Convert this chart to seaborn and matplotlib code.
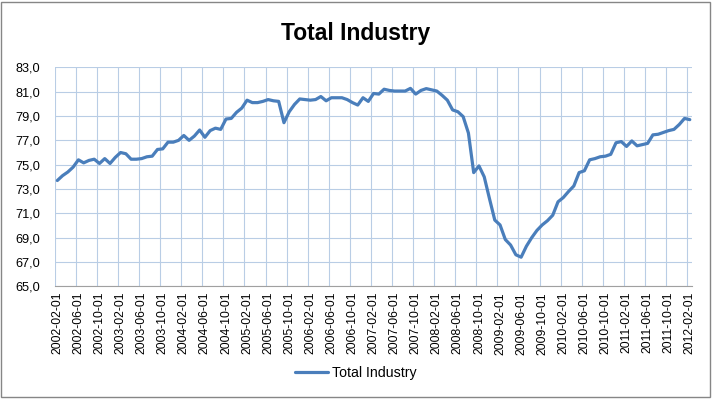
import numpy as np
import pandas as pd
import matplotlib
matplotlib.use('Agg')
import matplotlib.pyplot as plt
from matplotlib.ticker import FuncFormatter, FixedLocator
from matplotlib.patches import Rectangle
import seaborn as sns

# monthly values, 2002-02 .. 2012-02
values = [73.7, 74.1, 74.4, 74.8, 75.4, 75.15, 75.35, 75.45, 75.1, 75.5,
          75.1, 75.6, 76.0, 75.9, 75.45, 75.45, 75.5, 75.65, 75.7, 76.25,
          76.3, 76.85, 76.85, 77.0, 77.4, 77.0, 77.35, 77.85, 77.25, 77.8,
          78.0, 77.9, 78.75, 78.8, 79.3, 79.65, 80.3, 80.1, 80.1, 80.2,
          80.35, 80.25, 80.2, 78.45, 79.35, 79.95, 80.4, 80.35, 80.3, 80.35,
          80.6, 80.25, 80.5, 80.5, 80.5, 80.35, 80.1, 79.9, 80.5, 80.2,
          80.85, 80.8, 81.2, 81.1, 81.05, 81.05, 81.05, 81.27, 80.8, 81.1,
          81.25, 81.15, 81.05, 80.7, 80.3, 79.5, 79.35, 78.95, 77.6, 74.35,
          74.9, 74.0, 72.2, 70.45, 70.05, 68.85, 68.4, 67.6, 67.4, 68.3,
          69.0, 69.6, 70.05, 70.4, 70.85, 71.95, 72.3, 72.8, 73.25, 74.35,
          74.5, 75.4, 75.5, 75.65, 75.7, 75.85, 76.8, 76.9, 76.5, 76.95,
          76.55, 76.65, 76.75, 77.45, 77.5, 77.65, 77.8, 77.9, 78.3, 78.8,
          78.7]
dates = pd.date_range('2002-02-01', periods=len(values), freq='MS')
series_name = 'Total Industry'

df = pd.DataFrame({'date': dates.strftime('%Y-%m-%d'), 'value': values})
df['idx'] = np.arange(len(df))

sns.set_style('white')
plt.rcParams['font.family'] = ['Liberation Sans', 'DejaVu Sans']
plt.rcParams['text.color'] = 'black'

line_col = '#4A7EBB'
grid_col = '#B9CDE5'

fig = plt.figure(figsize=(7.12, 3.99), dpi=100)
ax = fig.add_axes([0.0768, 0.2822, 0.8957, 0.5491])

sns.lineplot(data=df, x='idx', y='value', ax=ax, color=line_col,
             linewidth=2.3, label=series_name)

ax.set_xlim(-0.5, len(df) - 0.5)
ax.set_ylim(65, 83)
ax.set_yticks(np.arange(65, 84, 2))
ax.yaxis.set_major_formatter(FuncFormatter(lambda v, p: f'{v:.1f}'.replace('.', ',')))

tick_pos = df['idx'][::4]
ax.set_xticks(tick_pos)
ax.set_xticklabels(df['date'][::4], rotation=90)
ax.xaxis.set_minor_locator(FixedLocator(np.arange(-0.5, len(df), 4)))

ax.grid(False)
ax.grid(True, axis='y', which='major', color=grid_col, linewidth=0.8)
ax.grid(True, axis='x', which='minor', color=grid_col, linewidth=0.8)
ax.tick_params(axis='both', which='both', length=0, colors='black')
ax.tick_params(axis='x', labelsize=8.7, pad=4)
ax.tick_params(axis='y', labelsize=9.2, pad=10.5)
ax.set_xlabel('')
ax.set_ylabel('')
for s in ['top', 'right', 'left']:
    ax.spines[s].set_visible(False)
ax.spines['bottom'].set_color('#A0A0A0')
ax.spines['bottom'].set_linewidth(0.8)

fig.text(0.5, 0.917, 'Total Industry', ha='center', va='center',
         fontsize=16.5, fontweight='bold', color='black')

leg = ax.legend(loc='center', bbox_to_anchor=(0.5, 0.065), bbox_transform=fig.transFigure,
                frameon=False, fontsize=10.2, handlelength=2.3, handletextpad=0.3)
for t in leg.get_texts():
    t.set_color('black')

fig.patches.append(Rectangle((0.002, 0.004), 0.995, 0.992, transform=fig.transFigure,
                             fill=False, edgecolor='#868686', linewidth=1))

fig.savefig('out.png', dpi=100, facecolor='white')
